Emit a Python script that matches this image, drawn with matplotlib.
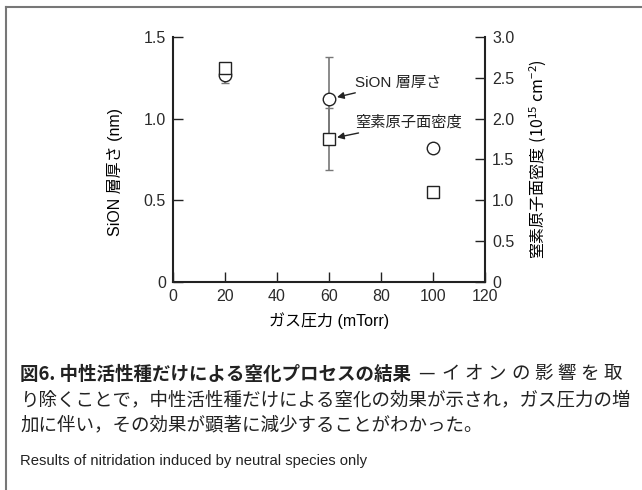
import matplotlib.pyplot as plt
from matplotlib.lines import Line2D

plt.rcParams['font.family'] = ['Liberation Sans', 'Noto Sans CJK JP']
plt.rcParams['text.color'] = '#222222'
# mathtext needs a CJK-capable font for the density label
plt.rcParams['mathtext.fontset'] = 'custom'
plt.rcParams['mathtext.rm'] = 'Noto Sans CJK JP'
plt.rcParams['mathtext.it'] = 'Noto Sans CJK JP'

# gas pressure (mTorr)
pressure = [20, 60, 100]
# SiON layer thickness (nm), left axis
sion_thickness = [1.27, 1.12, 0.82]
sion_err = [0.05, 0.26, 0.0]
# nitrogen areal density (1e15 cm^-2), right axis
n_density = [2.62, 1.75, 1.10]
n_err = [0.0, 0.38, 0.0]

x_ticks = [0, 20, 40, 60, 80, 100, 120]
left_ticks = [0, 0.5, 1.0, 1.5]
left_labels = ['0', '0.5', '1.0', '1.5']
right_ticks = [0, 0.5, 1.0, 1.5, 2.0, 2.5, 3.0]
right_labels = ['0', '0.5', '1.0', '1.5', '2.0', '2.5', '3.0']

W, H = 642, 490
fig = plt.figure(figsize=(W / 100, H / 100), dpi=100)
ax = fig.add_axes([0.269, 0.4245, 0.4865, 0.5])
ax2 = ax.twinx()

ink = '#222222'
err_col = '#777777'

ax.errorbar(pressure, sion_thickness, yerr=sion_err, fmt='o', ms=9,
            mfc='white', mec=ink, mew=1.0, ecolor=err_col, elinewidth=1.2,
            capsize=3, capthick=1.2, zorder=3)
ax2.errorbar(pressure, n_density, yerr=n_err, fmt='s', ms=9,
             mfc='white', mec=ink, mew=1.0, ecolor=err_col, elinewidth=1.2,
             capsize=3, capthick=1.2, zorder=3)

ax.set_xlim(0, 120)
ax.set_ylim(0, 1.5)
ax2.set_ylim(0, 3.0)
ax.set_xticks(x_ticks)
ax.set_yticks(left_ticks, left_labels)
ax2.set_yticks(right_ticks, right_labels)

for s in ['top', 'right']:
    ax.spines[s].set_visible(False)
for s in ['top', 'left', 'bottom']:
    ax2.spines[s].set_visible(False)
for a in (ax, ax2):
    for s in a.spines.values():
        s.set_linewidth(1.5)
        s.set_color(ink)
    a.tick_params(direction='in', length=7, width=1.0, color=ink,
                  labelsize=11.5, labelcolor='#2a2a2a', pad=5)

ax.set_xlabel('ガス圧力 (mTorr)', fontsize=11.5, labelpad=6)
ax.set_ylabel('SiON 層厚さ (nm)', fontsize=11.5, labelpad=12)
ax.yaxis.set_label_coords(-0.16, 0.45)
ax2.set_ylabel(r'$\mathrm{窒素原子面密度\ (10^{15}\ cm^{-2})}$', fontsize=11.5,
               labelpad=10)

# labels with arrows pointing at the 60 mTorr markers
arrow = dict(arrowstyle='-|>', color=ink, lw=1.0, mutation_scale=10,
             shrinkA=1, shrinkB=6)
ax.annotate('SiON 層厚さ', xy=(pressure[1], sion_thickness[1]),
            xytext=(70, 1.22), fontsize=11, va='center', ha='left',
            arrowprops=arrow)
ax2.annotate('窒素原子面密度', xy=(pressure[1], n_density[1]),
             xytext=(70, 1.95), fontsize=11, va='center', ha='left',
             arrowprops=arrow)

# frame lines on the top and left of the figure
fig.add_artist(Line2D([6 / W, 6 / W], [0, 1 - 7 / H], color='#777777', lw=1.5))
fig.add_artist(Line2D([6 / W, 1], [1 - 7 / H, 1 - 7 / H], color='#777777', lw=1.5))

cap_font = ['Noto Sans CJK JP']
cap_size = 13.3
y1 = 1 - 374 / H
t1 = fig.text(20 / W, y1, '図6. 中性活性種だけによる窒化プロセスの結果',
              fontsize=cap_size, fontweight='bold', family=cap_font, va='center')

# first caption line is justified: dash after the bold title, then the
# remaining characters spread out to the right margin
renderer = fig.canvas.get_renderer()
bold_end = t1.get_window_extent(renderer).x1
dash = fig.text((bold_end + 7) / W, y1, '—', fontsize=cap_size,
                family=cap_font, va='center', ha='left')
dash_end = dash.get_window_extent(renderer).x1
tail = 'イオンの影響を取'
cw = 18.5
x0 = dash_end + 7 + cw / 2
x1 = 622 - cw / 2
step = (x1 - x0) / (len(tail) - 1)
for i, ch in enumerate(tail):
    fig.text((x0 + i * step) / W, y1, ch, fontsize=cap_size,
             family=cap_font, va='center', ha='center')

fig.text(20 / W, 1 - 400 / H,
         'り除くことで，中性活性種だけによる窒化の効果が示され，ガス圧力の増',
         fontsize=cap_size, family=cap_font, va='center')
fig.text(20 / W, 1 - 425 / H,
         '加に伴い，その効果が顕著に減少することがわかった。',
         fontsize=cap_size, family=cap_font, va='center')
fig.text(20 / W, 1 - 461 / H,
         'Results of nitridation induced by neutral species only',
         fontsize=10.7, va='center')

fig.savefig('out.png', dpi=100)
